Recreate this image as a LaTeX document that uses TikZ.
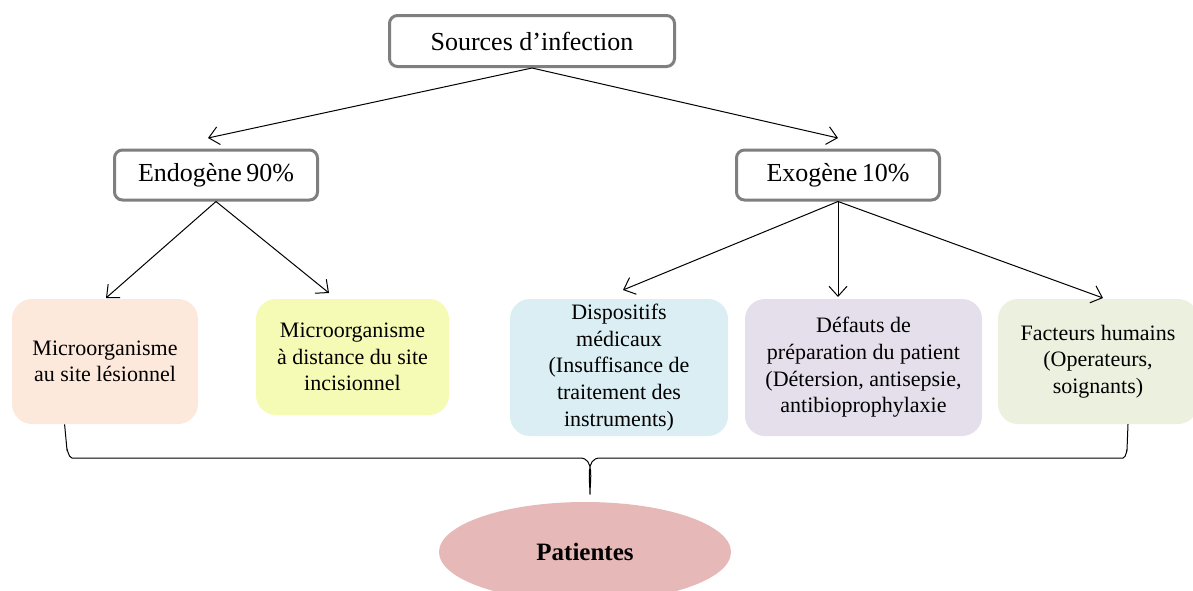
\documentclass[tikz,border=0pt]{standalone}
\usepackage{fontspec}
\setmainfont{Liberation Serif}
\usetikzlibrary{calc, positioning, shapes.geometric, arrows.meta}

\definecolor{cadre}{HTML}{7F7F7F}
\definecolor{peche}{HTML}{FCE9DB}
\definecolor{jaune}{HTML}{F5FAB4}
\definecolor{bleu}{HTML}{DAEEF3}
\definecolor{lavande}{HTML}{E5DFEC}
\definecolor{vert}{HTML}{EBF1DE}
\definecolor{rose}{HTML}{E6B8B7}

\begin{document}
\begin{tikzpicture}[
			x=0.5pt, y=-0.5pt,
			titre/.style={draw=cadre, line width=1.5pt, rounded corners=4pt, fill=white, align=center, font=\fontsize{13}{15}\selectfont},
			bloc/.style={rounded corners=10pt, align=center, inner sep=0pt, font=\fontsize{11}{13.3}\selectfont},
			fleche/.style={->, >={Straight Barb[length=5pt, width=9pt]}, line width=0.5pt},
			]
			\useasboundingbox (0,0) rectangle (1193,590);
			
			% Niveaux du haut
			\node[titre, minimum width=142.5pt, minimum height=25.5pt] (Sources) at (532,41) {Sources d'infection};
			\node[titre, minimum width=101.5pt, minimum height=25pt] (Endogene) at (216,175) {Endogène\,90\%};
			\node[titre, minimum width=101.5pt, minimum height=25pt] (Exogene) at (838,175) {Exogène\,10\%};
			
			% Causes
			\node[bloc, fill=peche, minimum width=93pt, minimum height=62.5pt] (MicroSite) at (105,361.5) {Microorganisme\\au site lésionnel};
			\node[bloc, fill=jaune, minimum width=96.5pt, minimum height=58pt] (MicroDistance) at (352.5,357) {Microorganisme\\à distance du site\\incisionnel};
			\node[bloc, fill=bleu, minimum width=109pt, minimum height=68.5pt] (Dispositifs) at (619,367.5) {Dispositifs\\médicaux\\(Insuffisance de\\traitement des\\instruments)};
			\node[bloc, fill=lavande, minimum width=118.5pt, minimum height=68.5pt] (Defauts) at (863.5,367.5) {Défauts de\\préparation du patient\\(Détersion, antisepsie,\\antibioprophylaxie};
			\node[bloc, fill=vert, minimum width=100pt, minimum height=62.5pt] (Facteurs) at (1098,361.5) {Facteurs humains\\(Operateurs,\\soignants)};
			
			\node[ellipse, fill=rose, minimum width=146pt, minimum height=50pt, font=\fontsize{12.5}{15}\selectfont\bfseries] (Patientes) at (585,552) {Patientes};
			
			% Points de l'accolade
			\coordinate (GaucheHaut) at ($(MicroSite.south west)+(53,0)$);
			\coordinate (DroiteHaut) at (1128,424);
			\coordinate (Pointe) at ($(Patientes.north)+(5,-7)$);
			
			% Flèches
			\draw[fleche] (Sources.south) -- (208,138);
			\draw[fleche] (Sources.south) -- (838,138);
			\draw[fleche] (Endogene.south) -- (106,298);
			\draw[fleche] (Endogene.south) -- (329,293);
			\draw[fleche] (Exogene.south) -- (623,290);
			\draw[fleche] (Exogene.south) -- (838,297);
			\draw[fleche] (Exogene.south) -- (1103,298);
			
			% Accolade vers les patientes
			\draw[line width=0.5pt] (GaucheHaut) -- (67,450) to[out=90, in=180] (72,458)
			-- (580,458) to[out=0, in=90] (Pointe)
			(Pointe) to[out=90, in=180] (600,458)
			-- (1123,458) to[out=0, in=90] (1127,450) -- (DroiteHaut);
			
		\end{tikzpicture}
\end{document}
